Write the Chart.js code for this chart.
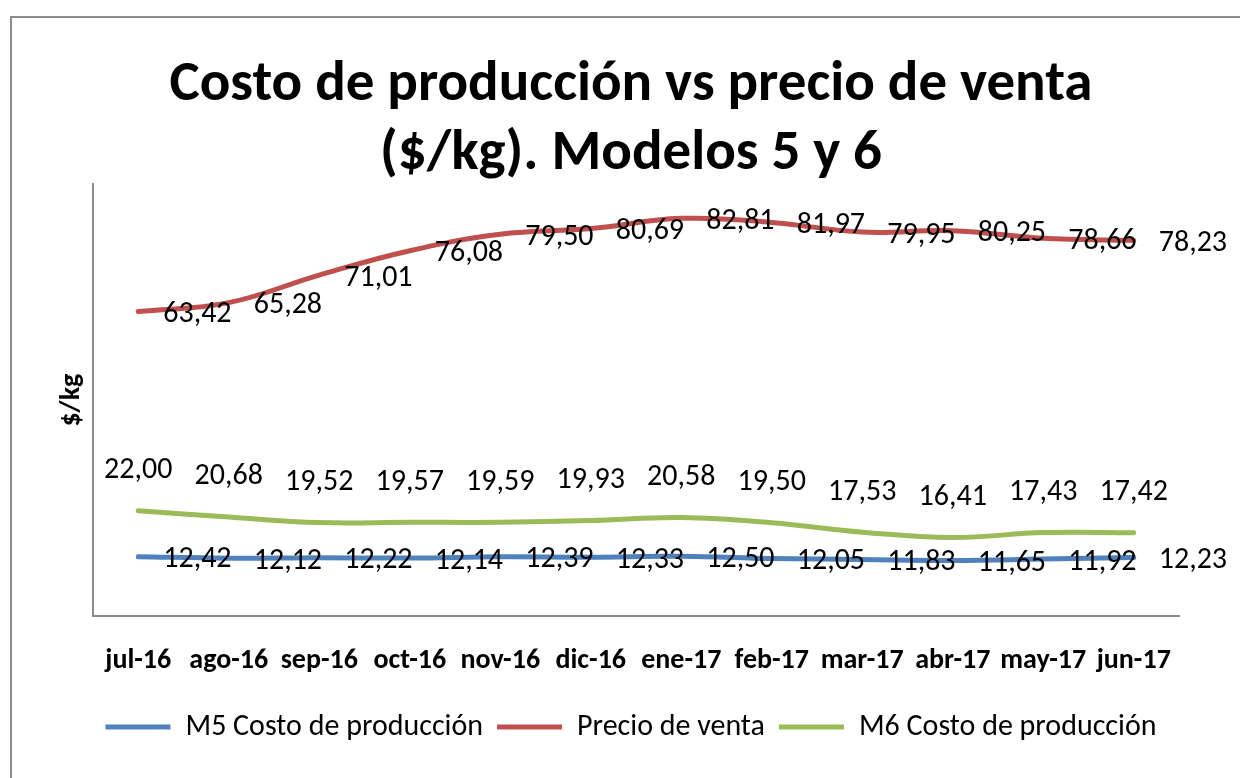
<!DOCTYPE html>
<html>
<head>
<meta charset="utf-8">
<script src="https://cdn.jsdelivr.net/npm/chart.js@4/dist/chart.umd.min.js"></script>
<style>
  html, body { margin: 0; padding: 0; background: #fff; overflow: hidden; width: 1240px; height: 778px; }
  #frame { position: absolute; left: 10px; top: 16px; width: 1300px; height: 800px;
           border-top: 2px solid #8c8c8c; border-left: 2px solid #8c8c8c; }
  #wrap { position: absolute; left: 10px; top: 16px; width: 1250px; height: 762px; }
</style>
</head>
<body>
<div id="frame"></div>
<div id="wrap"><canvas id="chart"></canvas></div>
<script>
const months = ["jul-16","ago-16","sep-16","oct-16","nov-16","dic-16","ene-17","feb-17","mar-17","abr-17","may-17","jun-17"];
const m5Costo = [12.42, 12.12, 12.22, 12.14, 12.39, 12.33, 12.50, 12.05, 11.83, 11.65, 11.92, 12.23];
const precioVenta = [63.42, 65.28, 71.01, 76.08, 79.50, 80.69, 82.81, 81.97, 79.95, 80.25, 78.66, 78.23];
const m6Costo = [22.00, 20.68, 19.52, 19.57, 19.59, 19.93, 20.58, 19.50, 17.53, 16.41, 17.43, 17.42];

const FONT = "Carlito, 'Liberation Sans Narrow', 'Open Sans', sans-serif";

// value labels, Excel style: blue/red to the right, green above
const valueLabels = {
  id: "valueLabels",
  afterDatasetsDraw(chart) {
    const ctx = chart.ctx;
    ctx.save();
    ctx.font = "30px " + FONT;
    ctx.fillStyle = "#000";
    ctx.textBaseline = "middle";
    chart.data.datasets.forEach((ds, i) => {
      const meta = chart.getDatasetMeta(i);
      meta.data.forEach((pt, j) => {
        const txt = ds.data[j].toFixed(2).replace(".", ",");
        if (ds.labelPos === "above") {
          ctx.textAlign = "center";
          ctx.fillText(txt, pt.x, pt.y - 40);
        } else {
          ctx.textAlign = "left";
          ctx.fillText(txt, pt.x + 25, pt.y + 3);
        }
      });
    });
    ctx.restore();
  }
};

const ctx = document.getElementById("chart").getContext("2d");
new Chart(ctx, {
  type: "line",
  data: {
    labels: months,
    datasets: [
      { label: "M5 Costo de producción", data: m5Costo, borderColor: "#4F81BD", backgroundColor: "#4F81BD", borderWidth: 5, labelPos: "right" },
      { label: "Precio de venta", data: precioVenta, borderColor: "#C0504D", backgroundColor: "#C0504D", borderWidth: 5, labelPos: "right" },
      { label: "M6 Costo de producción", data: m6Costo, borderColor: "#9BBB59", backgroundColor: "#9BBB59", borderWidth: 5, labelPos: "above" }
    ]
  },
  options: {
    responsive: true,
    maintainAspectRatio: false,
    animation: false,
    layout: { padding: { left: 45, right: 53, top: 0, bottom: 26 } },
    elements: {
      line: { tension: 0.4, borderCapStyle: "round" },
      point: { radius: 0 }
    },
    scales: {
      x: {
        offset: true,
        grid: { display: false },
        border: { display: true, color: "#8c8c8c", width: 2 },
        ticks: { color: "#000", padding: 20, maxRotation: 0, autoSkip: false, font: { family: FONT, size: 28, weight: "bold" } }
      },
      y: {
        min: 0, max: 90,
        grid: { display: false },
        border: { display: true, color: "#8c8c8c", width: 2 },
        ticks: { display: false },
        title: { display: true, text: "$/kg", color: "#000", padding: { top: 0, bottom: 4 }, font: { family: FONT, size: 28, weight: "bold" } },
        afterFit(scale) { scale.width = 38; }
      },
      // empty spacer on the right so the labels past jun-17 have room
      y2: {
        position: "right",
        grid: { display: false },
        border: { display: false },
        ticks: { display: false },
        afterFit(scale) { scale.width = 28; }
      }
    },
    plugins: {
      title: {
        display: true,
        text: ["Costo de producción vs precio de venta", "($/kg). Modelos 5 y 6"],
        color: "#000",
        font: { family: FONT, size: 57, weight: "bold", lineHeight: 1.2 },
        padding: { top: 36, bottom: -5 }
      },
      legend: {
        position: "bottom",
        labels: {
          color: "#000",
          usePointStyle: true,
          pointStyle: "line",
          pointStyleWidth: 65,
          boxHeight: 5,
          padding: 14,
          font: { family: FONT, size: 30 }
        }
      },
      tooltip: { enabled: false }
    }
  },
  plugins: [valueLabels]
});
</script>
</body>
</html>
